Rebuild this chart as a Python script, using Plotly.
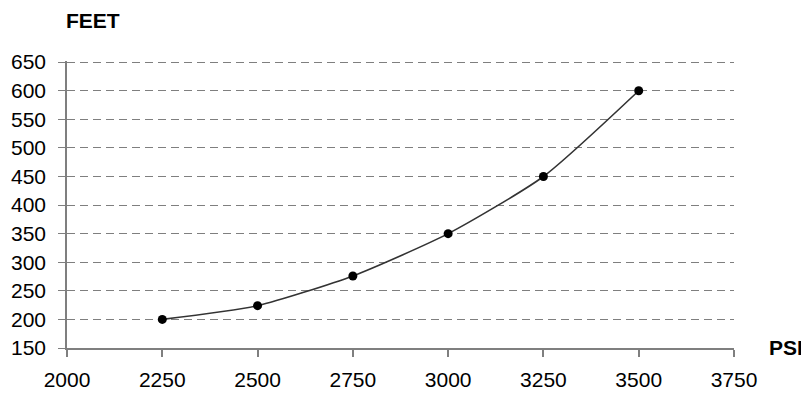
import plotly.graph_objects as go

psi = [2250, 2500, 2750, 3000, 3250, 3500]
feet = [200, 224, 276, 350, 450, 600]

x_ticks = [2000, 2250, 2500, 2750, 3000, 3250, 3500, 3750]
y_ticks = [150, 200, 250, 300, 350, 400, 450, 500, 550, 600, 650]

fig = go.Figure()
fig.add_trace(go.Scatter(
    x=psi, y=feet, mode="lines+markers",
    line=dict(color="#333333", width=1.6, shape="spline", smoothing=0.6),
    marker=dict(color="black", size=9),
    showlegend=False,
))

fam = "Liberation Sans, Arial, sans-serif"
font = dict(family=fam, size=21, color="black")

# the page adds an 8px body margin, so the figure is 8px smaller and shifted
fig.update_layout(
    width=801, height=390,
    margin=dict(l=59, r=75, t=53, b=50, autoexpand=False),
    paper_bgcolor="white", plot_bgcolor="white",
    font=font,
    xaxis=dict(
        range=[2000, 3750], tickvals=x_ticks, ticktext=[str(v) for v in x_ticks],
        showgrid=False, zeroline=False, automargin=False,
        showline=True, linecolor="#7f7f7f", linewidth=1.5,
        ticks="outside", ticklen=7, tickcolor="#7f7f7f", tickwidth=1.5,
        ticklabelstandoff=5, tickfont=dict(family=fam, size=21, color="black"),
    ),
    yaxis=dict(
        range=[150, 652], tickvals=y_ticks, ticktext=[str(v) for v in y_ticks],
        showgrid=True, gridcolor="#7f7f7f", gridwidth=1.2, griddash="8px,5px",
        zeroline=False, automargin=False,
        showline=True, linecolor="#7f7f7f", linewidth=1.5,
        ticks="outside", ticklen=7, tickcolor="#7f7f7f", tickwidth=1.2,
        ticklabelstandoff=8, tickfont=dict(family=fam, size=21, color="black"),
    ),
    annotations=[
        dict(text="<b>FEET</b>", xref="paper", yref="paper", x=0, y=1,
             xanchor="left", yanchor="middle", yshift=41, xshift=-3,
             showarrow=False, font=dict(family=fam, size=21, color="black")),
        dict(text="<b>PSI</b>", xref="paper", yref="paper", x=1, y=0,
             xanchor="left", yanchor="middle", xshift=33, yshift=1,
             showarrow=False, font=dict(family=fam, size=21, color="black")),
    ],
)

fig.write_html("out.html")
